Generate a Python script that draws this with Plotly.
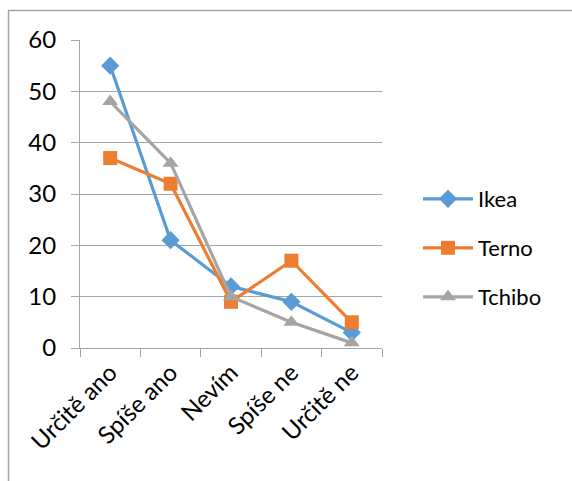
import plotly.graph_objects as go

categories = ["Určitě ano", "Spíše ano", "Nevím", "Spíše ne", "Určitě ne"]
ikea = [55, 21, 12, 9, 3]
terno = [37, 32, 9, 17, 5]
tchibo = [48, 36, 10, 5, 1]
y_ticks = [0, 10, 20, 30, 40, 50, 60]

FONT = "Lato"
FS = 24
GRID = "#A6A6A6"

series = [
    ("Ikea", ikea, "#5B9BD5", "diamond", 14, "legend"),
    ("Terno", terno, "#ED7D31", "square", 14, "legend2"),
    ("Tchibo", tchibo, "#A5A5A5", "triangle-up", 14, "legend3"),
]

fig = go.Figure()
for name, vals, color, sym, size, leg in series:
    fig.add_trace(go.Scatter(
        x=categories, y=vals, name=name, mode="lines+markers",
        line=dict(color=color, width=3.2),
        marker=dict(symbol=sym, size=size, color=color),
        legend=leg,
    ))

L, R, T, B = 80, 190, 40, 133
W, H = 572, 481
pw, ph = W - L - R, H - T - B

def px(x):
    return (x - L) / pw

def py(y):
    return (H - B - y) / ph

legend_common = dict(font=dict(family=FONT, size=FS - 2, color="#000"),
                     bgcolor="rgba(0,0,0,0)", xanchor="left", yanchor="middle",
                     itemwidth=50)

fig.update_layout(
    width=W, height=H,
    margin=dict(l=L, r=R, t=T, b=B),
    paper_bgcolor="white", plot_bgcolor="white",
    font=dict(family=FONT, size=FS, color="#000"),
    showlegend=True,
    legend=dict(x=px(418), y=py(199), **legend_common),
    legend2=dict(x=px(418), y=py(248), **legend_common),
    legend3=dict(x=px(418), y=py(297), **legend_common),
    xaxis=dict(
        type="category", range=[-0.5, 4.5], tickson="boundaries",
        ticks="outside", ticklen=8, tickcolor=GRID, tickwidth=1,
        showline=True, linecolor=GRID, linewidth=1, showgrid=False,
        tickangle=-45, tickfont=dict(family=FONT, size=FS),
    ),
    yaxis=dict(
        range=[0, 60], tickvals=y_ticks, ticks="outside", ticklen=8,
        tickcolor=GRID, tickwidth=1, showline=True, linecolor=GRID, linewidth=1,
        showgrid=True, gridcolor=GRID, gridwidth=1, zeroline=False,
        tickfont=dict(family=FONT, size=FS), ticklabelstandoff=10,
    ),
    shapes=[dict(type="rect", xref="paper", yref="paper",
                 x0=px(8.5), x1=px(700), y0=py(10.5), y1=py(700),
                 line=dict(color="#A6A6A6", width=1.5), fillcolor="rgba(0,0,0,0)",
                 layer="below")],
)

fig.write_html("out.html")
